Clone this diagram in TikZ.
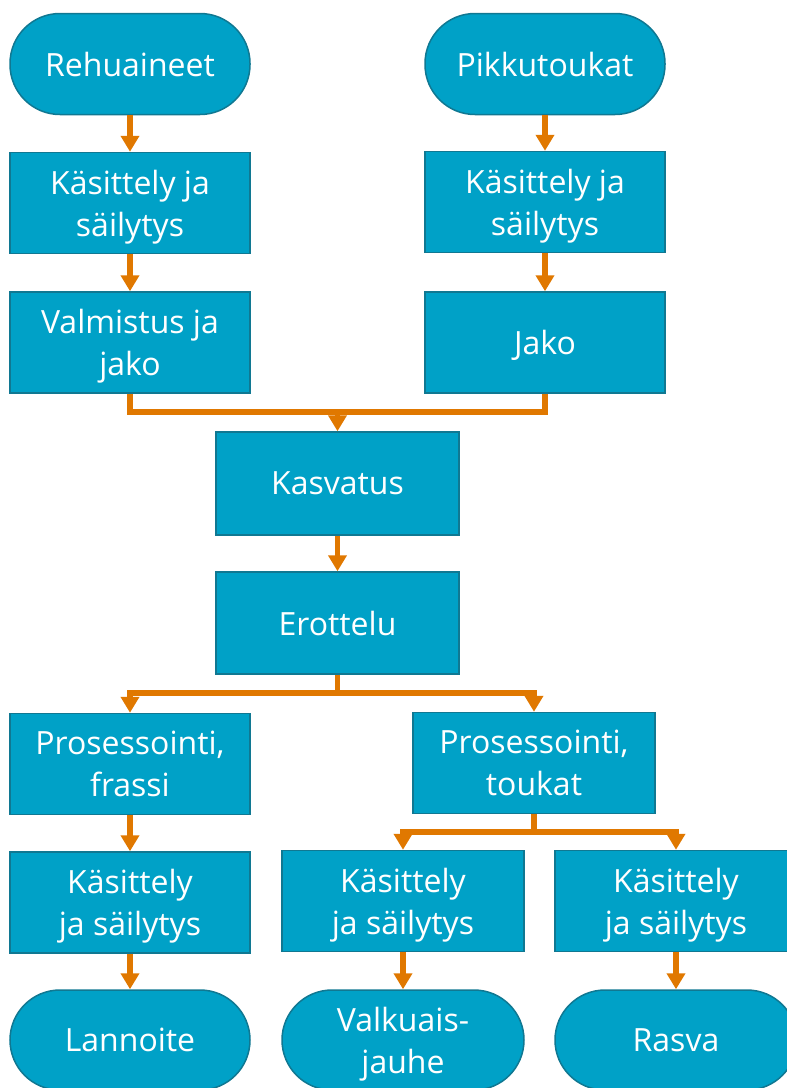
\documentclass[tikz,border=0pt]{standalone}
\usepackage{fontspec}
\setmainfont{Open Sans}
\usetikzlibrary{arrows.meta}
\definecolor{boxfill}{RGB}{0,161,199}
\definecolor{boxline}{RGB}{16,120,146}
\definecolor{arr}{RGB}{224,120,0}
\tikzset{
  procbox/.style={draw=boxline, line width=1.5pt, fill=boxfill, text=white,
    minimum width=240pt, minimum height=101pt, inner sep=0pt, align=center,
    text depth=0pt, font=\fontsize{32}{42}\selectfont},
  termbox/.style={procbox, rounded corners=50pt},
  flow/.style={draw=arr, line width=5.5pt},
  flowarrow/.style={flow, -{Triangle[width=18pt,length=16pt]}},
}
\begin{document}
\begin{tikzpicture}[x=1pt,y=-1pt]
\useasboundingbox (0,0) rectangle (787,1088);
% nodes
\node[termbox] (r1) at (130,64) {Rehuaineet};
\node[procbox] (k1) at (130,203) {Käsittely ja\\säilytys};
\node[procbox] (v1) at (130,342.5) {Valmistus ja\\jako};
\node[termbox] (p1) at (545,64) {Pikkutoukat};
\node[procbox] (k2) at (545,202) {Käsittely ja\\säilytys};
\node[procbox] (j1) at (545,342.5) {Jako};
\node[procbox, minimum width=243pt, minimum height=103pt] (kas) at (337.5,483.5) {Kasvatus};
\node[procbox, minimum width=243pt, minimum height=102pt] (ero) at (337.5,623) {Erottelu};
\node[procbox] (pf) at (130,764) {Prosessointi,\\frassi};
\node[procbox, minimum width=242pt] (pt) at (534,763) {Prosessointi,\\toukat};
\node[procbox] (k3) at (130,902.5) {Käsittely\\ja säilytys};
\node[procbox, minimum width=242pt] (k4) at (403,901) {Käsittely\\ja säilytys};
\node[procbox, minimum width=242pt] (k5) at (676,901) {Käsittely\\ja säilytys};
\node[termbox, minimum height=100pt] (lan) at (130,1040) {Lannoite};
\node[termbox, minimum width=242pt, minimum height=100pt] (val) at (403,1040) {Valkuais-\\jauhe};
\node[termbox, minimum width=242pt, minimum height=100pt] (ras) at (676,1040) {Rasva};
% junction points
\coordinate (m1) at (337.5,412);
\coordinate (m2) at (337.5,693);
\coordinate (m3) at (534,832);
% straight arrows
\draw[flowarrow] (r1) -- (k1);
\draw[flowarrow] (k1) -- (v1);
\draw[flowarrow] (p1) -- (k2);
\draw[flowarrow] (k2) -- (j1);
\draw[flowarrow] (kas) -- (ero);
\draw[flowarrow] (pf) -- (k3);
\draw[flowarrow] (k3) -- (lan);
\draw[flowarrow] (k4) -- (val);
\draw[flowarrow] (k5) -- (ras);
% merge into Kasvatus
\draw[flow] (v1.south) |- (m1);
\draw[flow] (j1.south) |- (m1);
\draw[flowarrow] (m1) -- (kas.north);
% branch from Erottelu
\draw[flow] (ero.south) -- (m2);
\draw[flowarrow] (m2) -| (pf.north);
\draw[flowarrow] (m2) -| (pt.north);
% branch from Prosessointi, toukat
\draw[flow] (pt.south) -- (m3);
\draw[flowarrow] (m3) -| (k4.north);
\draw[flowarrow] (m3) -| (k5.north);
\end{tikzpicture}
\end{document}
